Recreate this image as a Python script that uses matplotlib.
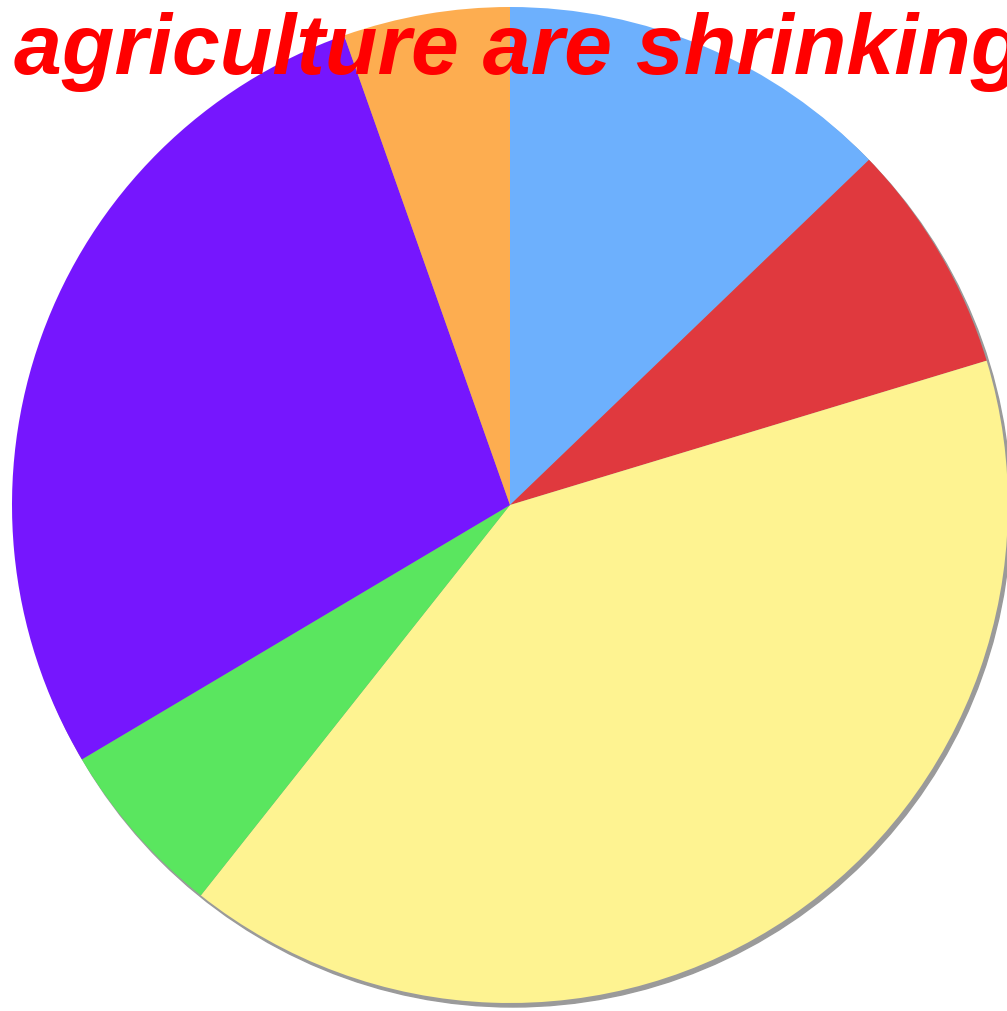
import matplotlib.pyplot as plt
from matplotlib.patches import Circle

# slice shares, clockwise from 12 o'clock
sectors = ['Blue', 'Red', 'Yellow', 'Green', 'Purple', 'Orange']
shares = [12.8, 7.5, 40.3, 5.8, 28.1, 5.4]
colours = ['#6db0fd', '#e0393e', '#fef391', '#5ae65f', '#7616fe', '#fdad50']
title = 'agriculture are shrinking'

W, H = 1007, 1011
fig = plt.figure(figsize=(W / 100, H / 100), dpi=100)
ax = fig.add_axes([0, 0, 1, 1])

cx, cy, r = 510, H - 505, 498

# soft shadow to the lower right
ax.add_patch(Circle((cx + 3, cy - 4), r, color='#9a9a9a', zorder=0))

ax.pie(shares, colors=colours, startangle=90, counterclock=False,
       center=(cx, cy), radius=r, frame=True,
       wedgeprops=dict(linewidth=0))
ax.set_xlim(0, W)
ax.set_ylim(0, H)
ax.set_aspect('equal')
ax.axis('off')

fig.text(14 / W, 1 - 74 / H, title, color='#ff0000', fontsize=62,
         fontweight='bold', fontstyle='italic', family='Liberation Sans',
         ha='left', va='baseline')

fig.savefig('out.png', dpi=100)
